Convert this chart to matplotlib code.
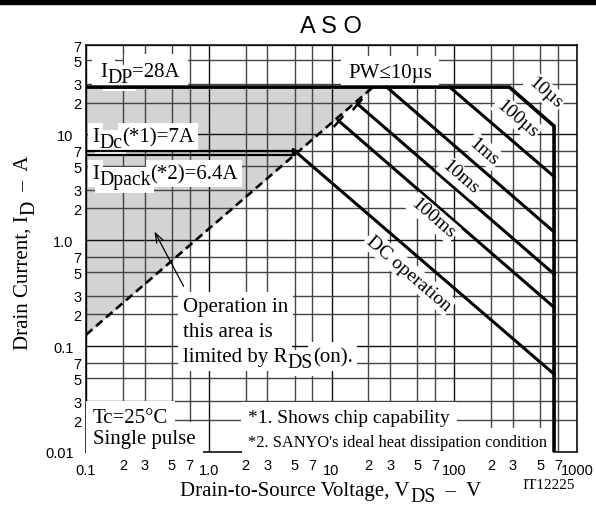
import numpy as np
import matplotlib
matplotlib.use('Agg')
import matplotlib.pyplot as plt
from matplotlib.ticker import FixedLocator, FixedFormatter
from matplotlib.transforms import offset_copy

plt.rcParams['font.family'] = ['Liberation Serif', 'DejaVu Serif']

# ratings
vds_max = 650
idp = 28
idc = 7
idpack = 6.4

# R_DS(on) limit (dashed)
rds_v = [0.1, 21.8]
rds_i = [0.128, 28]

# pulse-width lines, each ends on the VDSS line
pw_names = ['10µs', '100µs', '1ms', '10ms', '100ms', 'DC operation']
pw_v = [[0.1, 281, 650, 650], [92, 650], [28.2, 650], [16.2, 650], [11.4, 650], [5.0, 650]]
pw_i = [[28, 28, 12.0, 0.01], [28, 4.0], [28, 1.2], [19.5, 0.48], [13.5, 0.233], [7.0, 0.0545]]
# label centres (pixels in the 596x506 picture)
pw_lab_px = [(545, 93), (517, 119), (484, 152), (460, 178), (433, 219), (409, 274)]

x_major = [0.1, 1, 10, 100, 1000]
x_major_lab = ['0.1', '1.0', '10', '100', '1000']
y_major = [0.01, 0.1, 1, 10]
y_major_lab = ['0.01', '0.1', '1.0', '10']
mults = [2, 3, 5, 7]
x_minor = [m * d for d in [0.1, 1, 10, 100] for m in mults]
y_minor = [m * d for d in [0.01, 0.1, 1, 10] for m in mults]

W, H = 596, 506
fig = plt.figure(figsize=(W / 100, H / 100), dpi=100)
L, R, T, B = 86, 577, 46, 453
ax = fig.add_axes([L / W, 1 - B / H, (R - L) / W, (B - T) / H])
ax.set_xscale('log')
ax.set_yscale('log')
ax.set_xlim(0.1, 1000)
ax.set_ylim(0.01, 70)
rend = fig.canvas.get_renderer()


def px(x, y):
    # picture pixel -> axes fraction
    return (x - L) / (R - L), (B - y) / (B - T)


def fpx(x, y):
    return x / W, 1 - y / H


def text_w(s, size):
    # width in points, counting spaces
    t = fig.text(0, 0, 'x' + s + 'x', fontsize=size)
    t2 = fig.text(0, 0, 'xx', fontsize=size)
    w = (t.get_window_extent(rend).width - t2.get_window_extent(rend).width) * 72 / fig.dpi
    t.remove()
    t2.remove()
    return w


def rich(host, xy, parts, size, trans, rotation=0, ha='left', pad=None, sub=0.95):
    # parts: list of (text, is_subscript); subscripts stay large, just dropped
    sizes = [size * sub if s else size for _, s in parts]
    widths = [text_w(p, fs) for (p, _), fs in zip(parts, sizes)]
    th = np.radians(rotation)
    u = np.array([np.cos(th), np.sin(th)])
    d = np.array([np.sin(th), -np.cos(th)])
    pos = -sum(widths) / 2 if ha == 'center' else 0
    for (p, s), fs, w in zip(parts, sizes, widths):
        off = u * pos + (d * size * 0.3 if s else 0)
        tr = offset_copy(trans, fig=fig, x=off[0], y=off[1], units='points')
        kw = dict(transform=tr, fontsize=fs, rotation=rotation, rotation_mode='anchor',
                  ha='left', va='baseline')
        if pad is not None:
            # white box underneath, drawn separately so it never hides other text
            host.text(*xy, p, color='none', zorder=2.9,
                      bbox=dict(fc='white', ec='none', pad=min(pad, 2.5) if s else pad), **kw)
        host.text(*xy, p, zorder=3, **kw)
        pos += w


# grid
ax.set_axisbelow(True)
ax.xaxis.set_major_locator(FixedLocator(x_major))
ax.xaxis.set_major_formatter(FixedFormatter(x_major_lab))
ax.xaxis.set_minor_locator(FixedLocator(x_minor))
ax.xaxis.set_minor_formatter(FixedFormatter([str(m) for m in mults] * 4))
ax.yaxis.set_major_locator(FixedLocator(y_major))
ax.yaxis.set_major_formatter(FixedFormatter(y_major_lab))
ax.yaxis.set_minor_locator(FixedLocator(y_minor))
ax.yaxis.set_minor_formatter(FixedFormatter([str(m) for m in mults] * 4))
ax.grid(which='major', color='#111111', lw=1.0)
ax.grid(which='minor', color='#444444', lw=1.0)
ax.tick_params(which='both', length=0, labelsize=10.5, labelfontfamily='Liberation Sans')
ax.tick_params(axis='x', which='major', pad=8)
ax.tick_params(axis='x', which='minor', pad=4)
ax.tick_params(axis='y', which='major', pad=9)
ax.tick_params(axis='y', which='minor', pad=3)
for s in ax.spines.values():
    s.set_linewidth(1.1)

# shaded area limited by R_DS(on)
ax.fill_between(rds_v, rds_i, [idp, idp], color='#d3d3d3', lw=0, zorder=0.3)
ax.plot(rds_v, rds_i, color='k', lw=1.9, dashes=(3.2, 1.8), zorder=2.95)

# current limits
ax.plot([0.1, pw_v[5][0]], [idc, idc], color='k', lw=1.6, zorder=2.95)
ax.plot([0.1, pw_v[5][0]], [idpack, idpack], color='k', lw=1.6, zorder=2.95)
ax.plot([pw_v[5][0]], [idc], marker='>', ms=5, color='k', zorder=2.95)

for i in range(len(pw_names)):
    lw = 2.6 if i == 0 else 2.2
    ax.plot(pw_v[i], pw_i[i], color='k', lw=lw, solid_joinstyle='miter', zorder=2.95)

# rotation of a constant-power line on screen
p1 = ax.transData.transform((10, 10))
p2 = ax.transData.transform((100, 1))
ang = np.degrees(np.arctan2(p2[1] - p1[1], p2[0] - p1[0]))

# small end caps where 10ms / 100ms meet the R_DS(on) line
cs, cc = np.sin(np.radians(-ang)), np.cos(np.radians(-ang))
cap = [(-cs, -cc), (cs, cc)]
for i in (3, 4):
    ax.plot(pw_v[i][:1], pw_i[i][:1], marker=cap, ms=8, mew=1.8, color='k', zorder=2.95)

for name, (x, y) in zip(pw_names, pw_lab_px):
    ax.text(*px(x, y), name, transform=ax.transAxes, rotation=ang, rotation_mode='anchor',
            ha='center', va='center', fontsize=14,
            bbox=dict(fc='white', ec='none', pad=1.5), zorder=3)

# annotations
rich(ax, px(100, 77), [('I', 0), ('DP', 1), ('=28A', 0)], 15, ax.transAxes, pad=6)
rich(ax, px(348, 78), [('PW≤10µs', 0)], 15, ax.transAxes, pad=5)
rich(ax, px(92, 142), [('I', 0), ('Dc', 1), ('(*1)=7A', 0)], 15, ax.transAxes, pad=3)
rich(ax, px(92, 179), [('I', 0), ('Dpack', 1), ('(*2)=6.4A', 0)], 15, ax.transAxes, pad=3)

rich(ax, px(183, 312), [('Operation in', 0)], 15, ax.transAxes, pad=3.5)
rich(ax, px(183, 337), [('this area is', 0)], 15, ax.transAxes, pad=3.5)
rich(ax, px(183, 362), [('limited by R', 0), ('DS', 1), ('(on).', 0)], 15, ax.transAxes, pad=3.5)
ax.annotate('', xy=(0.352, 1.28), xytext=(0.64, 0.348),
            arrowprops=dict(arrowstyle='->,head_length=0.7,head_width=0.25', color='k', lw=0.9),
            zorder=3)

rich(ax, px(93, 423), [('Tc=25°C', 0)], 15, ax.transAxes, pad=5)
rich(ax, px(93, 444), [('Single pulse', 0)], 15, ax.transAxes, pad=5)
rich(ax, px(248, 423), [('*1. Shows chip capability', 0)], 14, ax.transAxes, pad=5)
rich(ax, px(248, 447), [("*2. SANYO's ideal heat dissipation condition", 0)], 11.8, ax.transAxes, pad=4)

# titles and axis labels
fig.text(*fpx(331, 27), 'A S O', fontsize=17, family='Liberation Sans', ha='center', va='center')
rich(fig, fpx(331, 496), [('Drain-to-Source Voltage, V', 0), ('DS', 1), ('  –  V', 0)], 15,
     fig.transFigure, ha='center')
rich(fig, fpx(28, 253), [('Drain Current, I', 0), ('D', 1), ('  –  A', 0)], 15,
     fig.transFigure, rotation=90, ha='center')
fig.text(*fpx(549, 486), 'IT12225', fontsize=11, ha='center', va='center')
fig.add_artist(plt.Rectangle((0, 1 - 5 / H), 1, 5 / H, transform=fig.transFigure, color='k'))

fig.savefig('out.png', dpi=100)
